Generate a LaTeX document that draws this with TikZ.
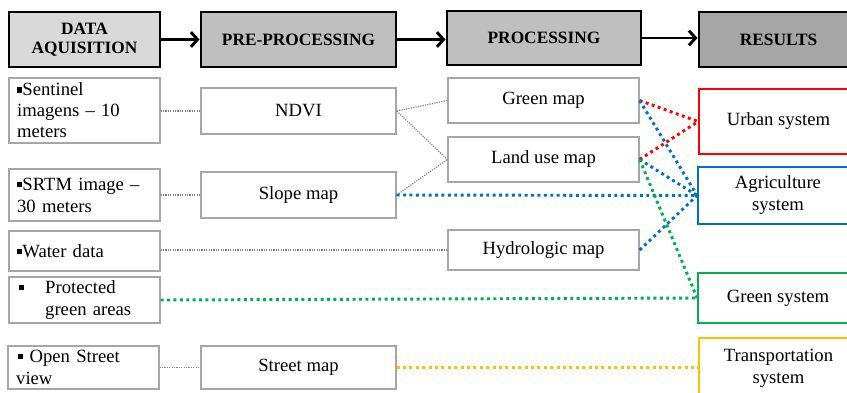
\documentclass[tikz,border=0pt]{standalone}
\usepackage{fontspec}
\setmainfont{Liberation Serif}
\usetikzlibrary{arrows.meta}
\definecolor{hdA}{HTML}{D9D9D9}
\definecolor{hdB}{HTML}{BFBFBF}
\definecolor{hdC}{HTML}{A6A6A6}
\definecolor{cRed}{HTML}{FF0000}
\definecolor{cBlue}{HTML}{0070C0}
\definecolor{cGreen}{HTML}{00B050}
\definecolor{cYel}{HTML}{FFC000}
\newcommand\bul{\rule[0.17em]{0.28em}{0.28em}}
\begin{document}
\begin{tikzpicture}[x=0.75pt,y=-0.75pt,
  rect/.style n args={4}{at={({(#1+#3)/2},{(#2+#4)/2})},
    minimum width={(#3-#1)*0.75pt}, minimum height={(#4-#2)*0.75pt}},
  hdr/.style={draw=black, line width=2.2pt, inner sep=0pt, align=center,
    font=\fontsize{13}{14.3}\selectfont\bfseries},
  box/.style={draw=gray!70, line width=1pt, inner sep=0pt, align=center,
    font=\fontsize{14}{16.5}\selectfont},
  lbox/.style={draw=gray!70, line width=1pt, inner sep=0pt, align=left,
    text width=101pt, font=\fontsize{14}{16.5}\selectfont},
  res/.style={line width=1.3pt, inner sep=0pt, align=center,
    font=\fontsize{14}{16.5}\selectfont},
  thin/.style={draw=gray, line width=0.9pt, dash pattern=on 0.9pt off 0.9pt},
  cdot/.style={line width=2.2pt, dash pattern=on 2.2pt off 2.6pt},
  flow/.style={line width=2.2pt, -{Straight Barb[length=5pt,width=11pt]}}]
\useasboundingbox (0,0) rectangle (847,393);
\clip (0,0) rectangle (847,393);
% headers
\node[hdr, fill=hdA, rect={9}{12}{160}{67}] (h1) {DATA\\AQUISITION};
\node[hdr, fill=hdB, rect={201}{12}{396}{67}] (h2) {PRE-PROCESSING};
\node[hdr, fill=hdB, rect={447}{11}{641}{65}] (h3) {PROCESSING};
\node[hdr, fill=hdC, rect={699}{12}{858}{67}] (h4) {RESULTS};
\draw[flow] (h1.east) -- (h1.east -| h2.west);
\draw[flow] (h2.east) -- (h2.east -| h3.west);
\draw[flow] (h3.east) -- (h3.east -| h4.west);
% data acquisition
\node[lbox, font=\fontsize{14}{15.8}\selectfont, rect={9}{78}{160}{143}] (sen) {\bul Sentinel\\imagens -- 10\\meters};
\node[lbox, rect={9}{169}{160}{221}] (srtm) {\bul SRTM image --\\30 meters};
\node[lbox, rect={9}{231}{160}{271}] (wat) {\bul Water data};
\node[lbox, rect={9}{277}{160}{323}] (pro) {\makebox[21pt][l]{\hspace{1.5pt}\bul}Protected\\\hspace*{21pt}green areas};
\node[lbox, rect={8}{346}{159}{389}] (osm) {\hspace*{1.5pt}\bul\ Open Street\\view};
% pre-processing
\node[box, rect={201}{88}{396}{134}] (ndvi) {NDVI};
\node[box, rect={201}{172}{396}{218}] (slope) {Slope map};
\node[box, rect={201}{346}{396}{389}] (street) {Street map};
% processing
\node[box, rect={448}{78}{639}{123}] (green) {Green map};
\node[box, rect={448}{137}{639}{182}] (land) {Land use map};
\node[box, rect={448}{230}{639}{270}] (hydro) {Hydrologic map};
% results
\node[res, draw=cRed, rect={699}{89}{858}{154}] (urban) {Urban system};
\node[res, draw=cBlue, rect={698}{167}{858}{224}] (agri) {Agriculture\\system};
\node[res, draw=cGreen, rect={698}{273}{858}{323}] (gsys) {Green system};
\node[res, draw=cYel, rect={699}{338}{858}{398}] (trans) {Transportation\\system};
% thin gray links
\draw[thin] (sen.east |- ndvi.west) -- (ndvi.west);
\draw[thin] (srtm.east |- slope.west) -- (slope.west);
\draw[thin] (wat.east |- hydro.west) -- (hydro.west);
\draw[thin] (osm.east |- street.west) -- (street.west);
\draw[thin] (ndvi.east) -- (green.west);
\draw[thin] (ndvi.east) -- (land.west);
\draw[thin] (slope.east) -- (land.west);
% coloured links
\draw[cdot, cRed] (green.east) -- (urban.west);
\draw[cdot, cRed] (land.east) -- (urban.west);
\draw[cdot, cBlue] (green.east) -- (agri.west);
\draw[cdot, cBlue] (land.east) -- (agri.west);
\draw[cdot, cBlue] (slope.east) -- (agri.west);
\draw[cdot, cBlue] (hydro.east) -- (agri.west);
\draw[cdot, cGreen] (land.east) -- (gsys.west);
\draw[cdot, cGreen] (pro.east) -- (gsys.west);
\draw[cdot, cYel] (street.east) -- (trans.west |- street.east);
\end{tikzpicture}
\end{document}
